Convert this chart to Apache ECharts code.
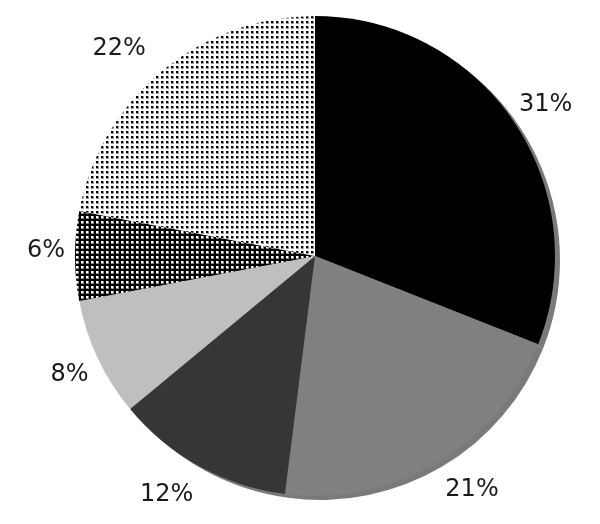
<!DOCTYPE html>
<html>
<head>
<meta charset="utf-8">
<script src="https://cdn.jsdelivr.net/npm/echarts@6/dist/echarts.min.js"></script>
<style>
html,body{margin:0;padding:0;background:#fff;}
#chart{width:600px;height:524px;}
</style>
</head>
<body>
<div id="chart"></div>
<script>
// Data
var categories = ['A', 'B', 'C', 'D', 'E', 'F'];
var values = [31, 21, 12, 8, 6, 22];
var labels = ['31%', '21%', '12%', '8%', '6%', '22%'];

// Layout tweaks for label placement (pixels)
var labelNudge = [[0, 6], [15, -6], [-14, -6], [7, 0], [10, -5], [-18, 8]];

function dotPattern(bg, fg, edge) {
  var tile = 5;
  var c = document.createElement('canvas');
  c.width = tile; c.height = tile;
  var ctx = c.getContext('2d');
  ctx.fillStyle = bg; ctx.fillRect(0, 0, tile, tile);
  ctx.fillStyle = edge; ctx.fillRect(1, 1, 3, 3);
  ctx.fillStyle = fg; ctx.fillRect(1, 1, 2, 2);
  return c;
}
var patDense = dotPattern('#000000', '#ffffff', '#8a8a8a');
var patSparse = dotPattern('#ffffff', '#000000', '#9a9a9a');

var fills = [
  '#000000',
  '#808080',
  '#363636',
  '#bfbfbf',
  { image: patDense, repeat: 'repeat' },
  { image: patSparse, repeat: 'repeat' }
];

var mainData = categories.map(function (c, i) {
  return { name: c, value: values[i], itemStyle: { color: fills[i] } };
});
var shadowData = categories.map(function (c, i) {
  return { name: c, value: values[i] };
});
var labelData = categories.map(function (c, i) {
  return { name: c, value: values[i], label: { formatter: labels[i], offset: labelNudge[i] } };
});

var chart = echarts.init(document.getElementById('chart'), null, { renderer: 'canvas' });
chart.setOption({
  backgroundColor: '#ffffff',
  animation: false,
  series: [
    {
      type: 'pie',
      silent: true,
      center: [320, 260],
      radius: 240,
      startAngle: 90,
      clockwise: true,
      label: { show: false },
      labelLine: { show: false },
      itemStyle: { color: '#7a7a7a', borderWidth: 0 },
      data: shadowData
    },
    {
      type: 'pie',
      silent: true,
      center: [315, 256],
      radius: 240,
      startAngle: 90,
      clockwise: true,
      label: { show: false },
      labelLine: { show: false },
      itemStyle: { borderWidth: 0 },
      data: mainData
    },
    {
      type: 'pie',
      silent: true,
      center: [315, 256],
      radius: [252, 300],
      startAngle: 90,
      clockwise: true,
      itemStyle: { color: 'rgba(0,0,0,0)', borderWidth: 0 },
      labelLine: { show: false },
      label: {
        show: true,
        position: 'inside',
        fontFamily: 'DejaVu Sans',
        fontSize: 24,
        color: '#1a1a1a'
      },
      data: labelData
    }
  ]
});
</script>
</body>
</html>
